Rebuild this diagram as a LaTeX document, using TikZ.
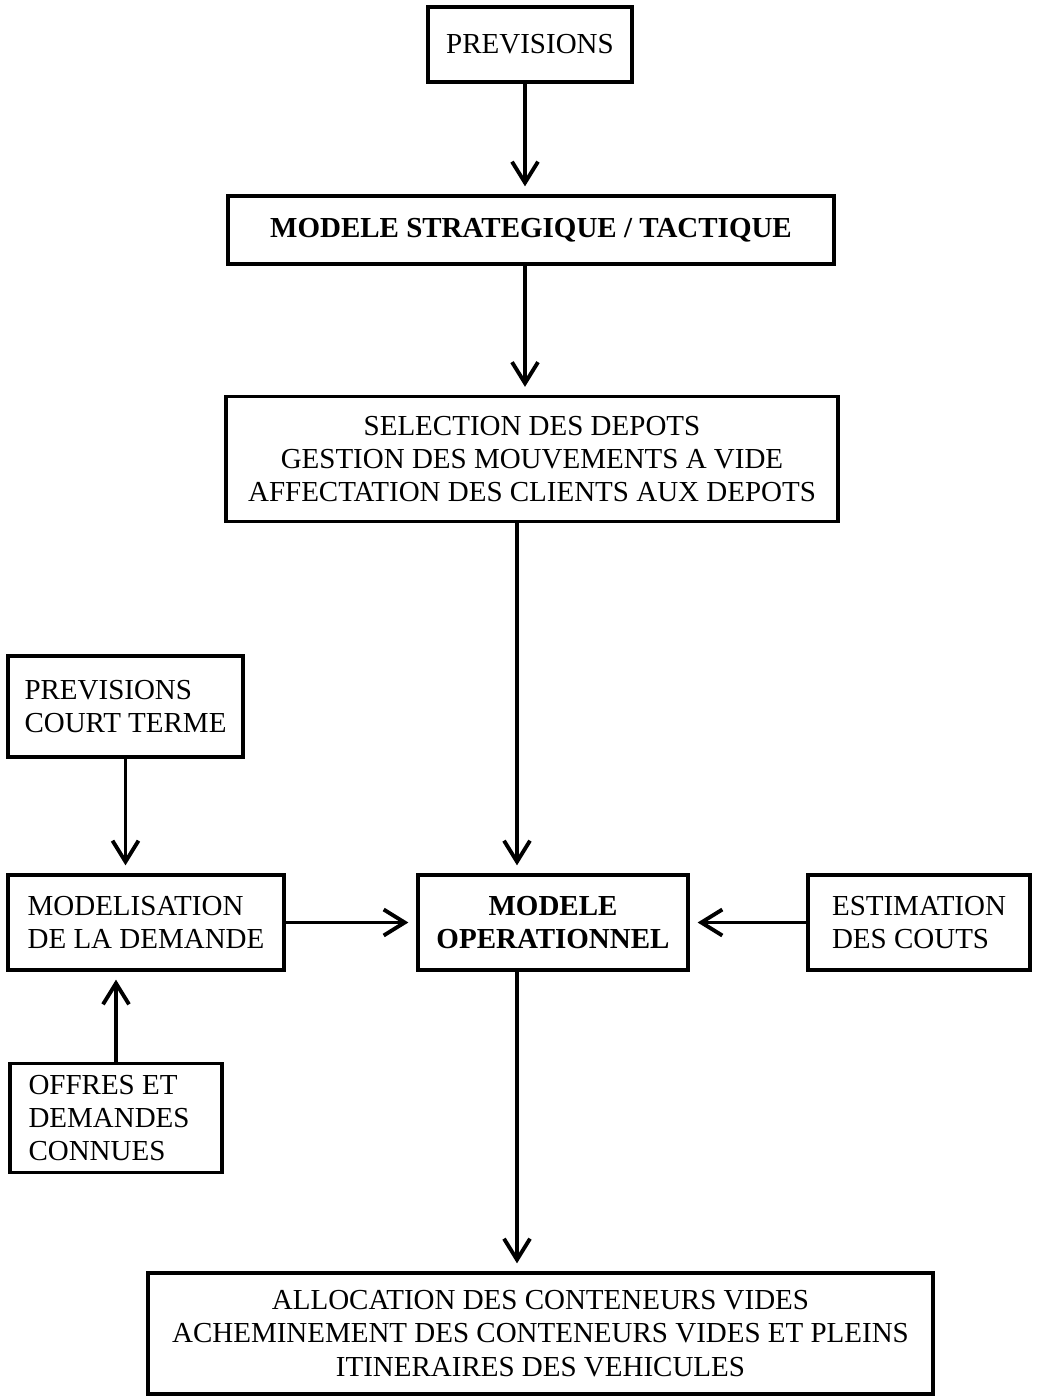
\documentclass[tikz,border=0pt]{standalone}
\usepackage{fontspec}
\setmainfont{Liberation Serif}
\usetikzlibrary{arrows.meta}
\newcommand{\boxfont}{\fontsize{16.5}{18.9}\selectfont}
\tikzset{
    box/.style={
        rectangle, draw=black, line width=1.9pt,
        inner sep=0pt, font=\boxfont,
    },
    flow/.style={
        draw=black, line width=2.2pt,
        -{Straight Barb[length=4.2mm, width=5.2mm]},
        shorten >=1.6mm,
    },
}

\begin{document}
\begin{tikzpicture}[x=0.02cm, y=-0.02cm]
        \useasboundingbox (0,0) rectangle (1040,1399);

        % upper chain
        \node (prev) at (530,44.5) [
            box, minimum width=4.08cm, minimum height=1.5cm,
        ] {PREVISIONS};
        \node (strat) at (531,230) [
            box, minimum width=12.12cm, minimum height=1.36cm,
            font=\boxfont\bfseries,
        ] {MODELE STRATEGIQUE / TACTIQUE};
        \node (select) at (532,459) [
            box, minimum width=12.24cm, minimum height=2.5cm, align=center,
        ] {SELECTION DES DEPOTS\\GESTION DES MOUVEMENTS A VIDE\\AFFECTATION DES CLIENTS AUX DEPOTS};

        % left inputs
        \node (court) at (125.5,706.5) [
            box, minimum width=4.7cm, minimum height=2.02cm, align=left,
        ] {PREVISIONS\\COURT TERME};
        \node (demande) at (146,922.5) [
            box, minimum width=5.52cm, minimum height=1.9cm, align=left,
        ] {MODELISATION\\DE LA DEMANDE};
        \node (offres) at (116,1118) [
            box, minimum width=4.24cm, minimum height=2.18cm,
            align=flush left, text width=3.5cm,
        ] {OFFRES ET\\DEMANDES\\CONNUES};

        % operational level
        \node (oper) at (553,922.5) [
            box, minimum width=5.4cm, minimum height=1.9cm, align=center,
            font=\boxfont\bfseries,
        ] {MODELE\\OPERATIONNEL};
        \node (couts) at (919,922.5) [
            box, minimum width=4.44cm, minimum height=1.9cm, align=left,
        ] {ESTIMATION\\DES COUTS};
        \node (alloc) at (540.5,1333.5) [
            box, minimum width=15.7cm, minimum height=2.42cm, align=center,
        ] {ALLOCATION DES CONTENEURS VIDES\\ACHEMINEMENT DES CONTENEURS VIDES ET PLEINS\\ITINERAIRES DES VEHICULES};

        \coordinate (col) at (517,0);
        \coordinate (top) at (525,0);

        \draw[flow] (prev.south -| top) -- (strat.north -| top);
        \draw[flow] (strat.south -| top) -- (select.north -| top);
        \draw[flow] (select.south -| col) -- (oper.north -| col);
        \draw[flow] (court.south) -- (court.south |- demande.north);
        \draw[flow] (offres.north) -- (offres.north |- demande.south);
        \draw[flow] (demande.east) -- (oper.west);
        \draw[flow] (couts.west) -- (oper.east);
        \draw[flow] (oper.south -| col) -- (alloc.north -| col);
    \end{tikzpicture}
\end{document}
